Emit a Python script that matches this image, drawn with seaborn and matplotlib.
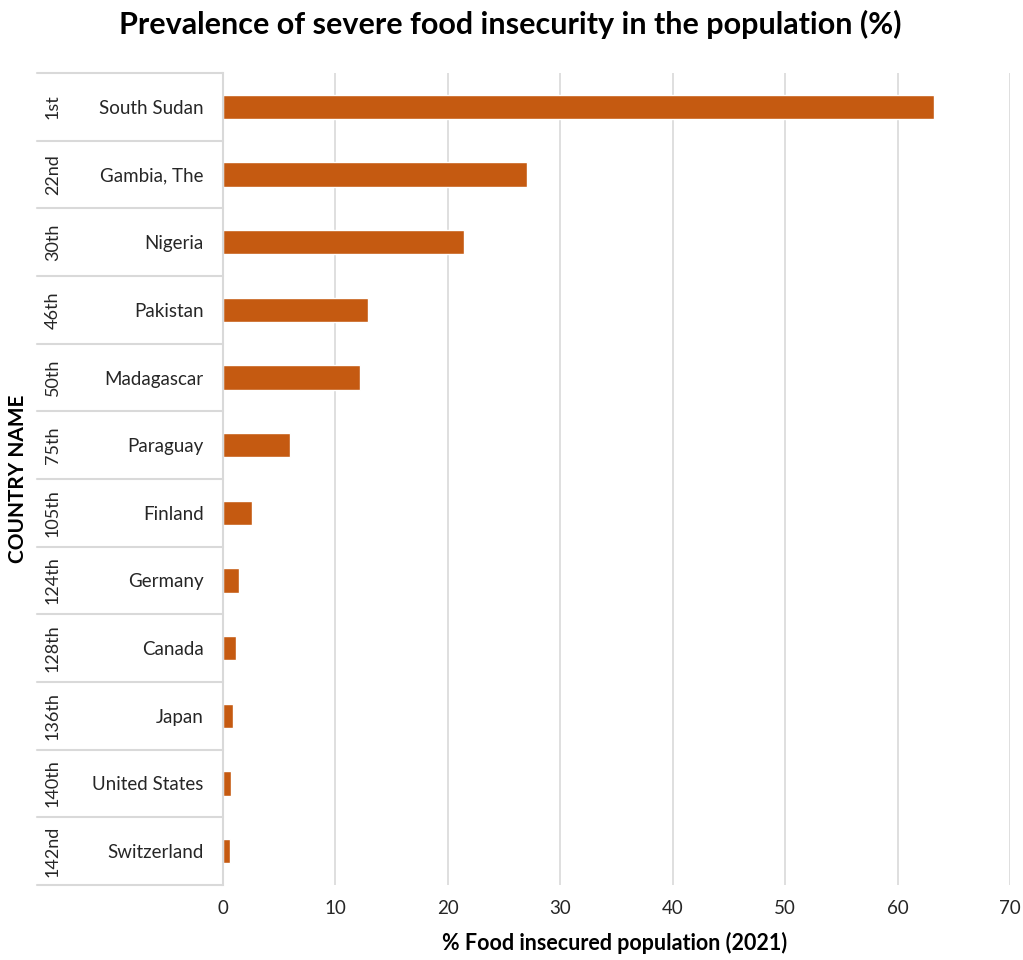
import matplotlib
matplotlib.use("Agg")
import matplotlib.pyplot as plt
import matplotlib.transforms as mtransforms
from matplotlib.lines import Line2D
import seaborn as sns
import pandas as pd

countries = ["South Sudan", "Gambia, The", "Nigeria", "Pakistan", "Madagascar", "Paraguay",
             "Finland", "Germany", "Canada", "Japan", "United States", "Switzerland"]
ranks = ["1st", "22nd", "30th", "46th", "50th", "75th", "105th", "124th", "128th", "136th", "140th", "142nd"]
values = [63.2, 27.0, 21.4, 12.9, 12.2, 6.0, 2.6, 1.4, 1.2, 0.9, 0.7, 0.6]
xticks = [0, 10, 20, 30, 40, 50, 60, 70]

sns.set_theme(style="whitegrid")
plt.rcParams['font.family'] = ['Lato', 'DejaVu Sans']

df = pd.DataFrame({"country": countries, "value": values})

W, H = 1023, 960
fig = plt.figure(figsize=(W / 100, H / 100), dpi=100)
ax = fig.add_axes([223 / W, 1 - 885 / H, (1010 - 223) / W, (885 - 73) / H])

sns.barplot(data=df, y="country", x="value", orient="h", color="#C55A11",
            width=0.36, saturation=1, ax=ax)

ax.set_xlim(0, 70)
ax.set_xticks(xticks)
ax.set_ylim(len(countries) - 0.5, -0.5)
ax.grid(axis="x", color="#d9d9d9", linewidth=1.2)
ax.grid(axis="y", visible=False)
for s in ["top", "right", "bottom"]:
    ax.spines[s].set_visible(False)
ax.spines["left"].set_color("#d9d9d9")
ax.spines["left"].set_linewidth(1.5)
ax.tick_params(axis="x", length=0, labelsize=13.5, pad=11, labelcolor="#262626")
ax.tick_params(axis="y", length=0, labelsize=13.5, pad=14, labelcolor="#262626")
ax.set_xlabel("")
ax.set_ylabel("")

# multi-level category table
trans = mtransforms.blended_transform_factory(fig.transFigure, ax.transData)
for i in range(len(countries) + 1):
    fig.add_artist(Line2D([37 / W, 223 / W], [i - 0.5, i - 0.5], transform=trans,
                          color="#d9d9d9", linewidth=1.5))
for i, r in enumerate(ranks):
    fig.text(53 / W, i, r, transform=trans, rotation=90, ha="center", va="center",
             fontsize=13, color="#262626")

fig.text(0.5 * (113 + 908) / W, 1 - 24 / H, "Prevalence of severe food insecurity in the population (%)",
         ha="center", va="center", fontsize=22, fontweight="bold", color="black")
fig.text(615 / W, 1 - 943 / H, "% Food insecured population (2021)",
         ha="center", va="center", fontsize=15.5, fontweight="bold", color="black")
fig.text(18 / W, 1 - 479 / H, "COUNTRY NAME", rotation=90,
         ha="center", va="center", fontsize=15, fontweight="bold", color="black")

fig.savefig("out.png", dpi=100)
